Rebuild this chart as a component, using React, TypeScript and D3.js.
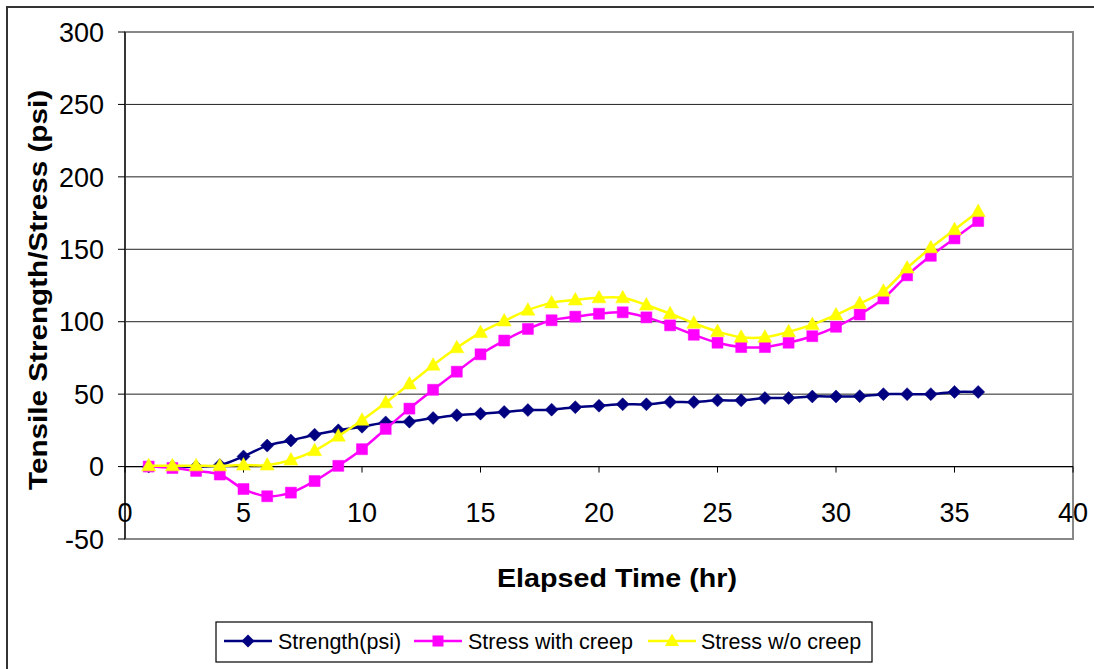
import * as d3 from "d3";

// Elapsed time (hr)
const hours = [
  1, 2, 3, 4, 5, 6, 7, 8, 9, 10, 11, 12, 13, 14, 15, 16, 17, 18, 19, 20, 21, 22,
  23, 24, 25, 26, 27, 28, 29, 30, 31, 32, 33, 34, 35, 36,
];
const strength = [
  0, 0, 0, 1, 7, 14.5, 18, 22, 25, 27.5, 30.5, 31, 33.5, 35.5, 36.5, 37.7, 39,
  39.3, 41, 42, 43, 43, 44.5, 44.5, 45.7, 45.7, 47.3, 47.3, 48.4, 48.4, 48.6, 50,
  50, 50, 51.5, 51.5,
];
const stressCreep = [
  0, -1, -3, -5.5, -15.5, -20.5, -18, -10, 0.5, 12, 26, 40, 53, 65.5, 77.5, 87, 95,
  101, 103.5, 105.5, 106.5, 103, 97.5, 91, 85.5, 82.5, 82.5, 85.5, 90, 96.5, 105,
  116, 132, 145.5, 157.5, 169.5,
];
const stressNoCreep = [
  0.5, 0.5, 0.5, 0.5, 1, 1, 4.5, 11, 21, 32, 44, 57, 70, 82, 92.5, 100.5, 108, 113,
  115, 116.5, 116.5, 111.5, 105.5, 99, 93.2, 89.3, 89.3, 93, 98, 104.7, 112.5, 121,
  137, 151, 163.5, 176,
];
const xTicks = [0, 5, 10, 15, 20, 25, 30, 35, 40];
const yTicks = [-50, 0, 50, 100, 150, 200, 250, 300];
const seriesNames = ["Strength(psi)", "Stress with creep", "Stress w/o creep"];

const W = 1094;
const H = 669;
const plot = { left: 125, right: 1073, top: 32, bottom: 539 };
const font = "'Liberation Sans', Arial, sans-serif";

type Marker = "diamond" | "square" | "triangle";

function markerPath(kind: Marker, cx: number, cy: number) {
  if (kind === "diamond")
    return `M${cx},${cy - 6.5}L${cx + 6.5},${cy}L${cx},${cy + 6.5}L${cx - 6.5},${cy}Z`;
  if (kind === "square") return `M${cx - 5.5},${cy - 5.5}h11v11h-11Z`;
  return `M${cx},${cy - 7.5}L${cx + 7},${cy + 5}L${cx - 7},${cy + 5}Z`;
}

export default function App() {
  const x = d3.scaleLinear().domain([0, 40]).range([plot.left, plot.right]);
  const y = d3.scaleLinear().domain([-50, 300]).range([plot.bottom, plot.top]);

  const series = [
    { name: seriesNames[0], values: strength, color: "#000080", marker: "diamond" as Marker },
    { name: seriesNames[1], values: stressCreep, color: "#FF00FF", marker: "square" as Marker },
    { name: seriesNames[2], values: stressNoCreep, color: "#FFFF00", marker: "triangle" as Marker },
  ];

  const line = d3
    .line<[number, number]>()
    .x((d) => x(d[0]))
    .y((d) => y(d[1]))
    .curve(d3.curveCatmullRom.alpha(0.5));

  const y0 = y(0);

  // legend layout
  const legendItems = [
    { lx: 224, tx: 278 },
    { lx: 414, tx: 468 },
    { lx: 648, tx: 701 },
  ];

  return (
    <svg
      width={W}
      height={H}
      style={{ position: "absolute", left: 0, top: 0, background: "#fff" }}
      fontFamily={font}
    >
      {/* outer chart border */}
      <path d={`M7,${H}V7H${W}`} fill="none" stroke="#333" strokeWidth={2} />

      {/* gridlines */}
      {yTicks.map((t) => (
        <line key={t} x1={plot.left} x2={plot.right} y1={y(t)} y2={y(t)} stroke="#222" strokeWidth={1} />
      ))}

      {/* plot area border */}
      <rect
        x={plot.left}
        y={plot.top}
        width={plot.right - plot.left}
        height={plot.bottom - plot.top}
        fill="none"
        stroke="#888"
        strokeWidth={2}
      />

      {/* y axis */}
      <line x1={plot.left} x2={plot.left} y1={plot.top} y2={plot.bottom} stroke="#000" strokeWidth={1.2} />
      {yTicks.map((t) => (
        <g key={t}>
          <line x1={plot.left - 7} x2={plot.left} y1={y(t)} y2={y(t)} stroke="#000" />
          <text x={104} y={y(t)} dy="0.36em" textAnchor="end" fontSize={27}>
            {t}
          </text>
        </g>
      ))}

      {/* x axis at zero */}
      <line x1={plot.left} x2={plot.right} y1={y0} y2={y0} stroke="#000" strokeWidth={1.2} />
      {xTicks.map((t) => (
        <g key={t}>
          <line x1={x(t)} x2={x(t)} y1={y0} y2={y0 + 6} stroke="#000" />
          <text x={x(t)} y={512} dy="0.36em" textAnchor="middle" fontSize={27}>
            {t}
          </text>
        </g>
      ))}

      {/* axis titles */}
      <text
        x={617}
        y={578}
        dy="0.36em"
        textAnchor="middle"
        fontSize={26}
        fontWeight="bold"
        textLength={240}
        lengthAdjust="spacingAndGlyphs"
      >
        Elapsed Time (hr)
      </text>
      <text
        transform={`translate(38,${290}) rotate(-90)`}
        dy="0.36em"
        textAnchor="middle"
        fontSize={26}
        fontWeight="bold"
        textLength={400}
        lengthAdjust="spacingAndGlyphs"
      >
        Tensile Strength/Stress (psi)
      </text>

      {/* series */}
      {series.map((s) => {
        const pts = hours.map((h, i) => [h, s.values[i]] as [number, number]);
        return (
          <g key={s.name}>
            <path d={line(pts) ?? ""} fill="none" stroke={s.color} strokeWidth={2.5} />
            {pts.map((p, i) => (
              <path key={i} d={markerPath(s.marker, x(p[0]), y(p[1]))} fill={s.color} stroke={s.color} strokeWidth={0.5} />
            ))}
          </g>
        );
      })}

      {/* legend */}
      <rect x={216} y={622} width={656} height={40} fill="#fff" stroke="#000" strokeWidth={1.2} />
      {series.map((s, i) => {
        const it = legendItems[i];
        return (
          <g key={s.name}>
            <line x1={it.lx} x2={it.lx + 48} y1={641} y2={641} stroke={s.color} strokeWidth={2.5} />
            <path d={markerPath(s.marker, it.lx + 24, 641)} fill={s.color} />
            <text x={it.tx} y={641} dy="0.36em" fontSize={21.5}>
              {s.name}
            </text>
          </g>
        );
      })}
    </svg>
  );
}
